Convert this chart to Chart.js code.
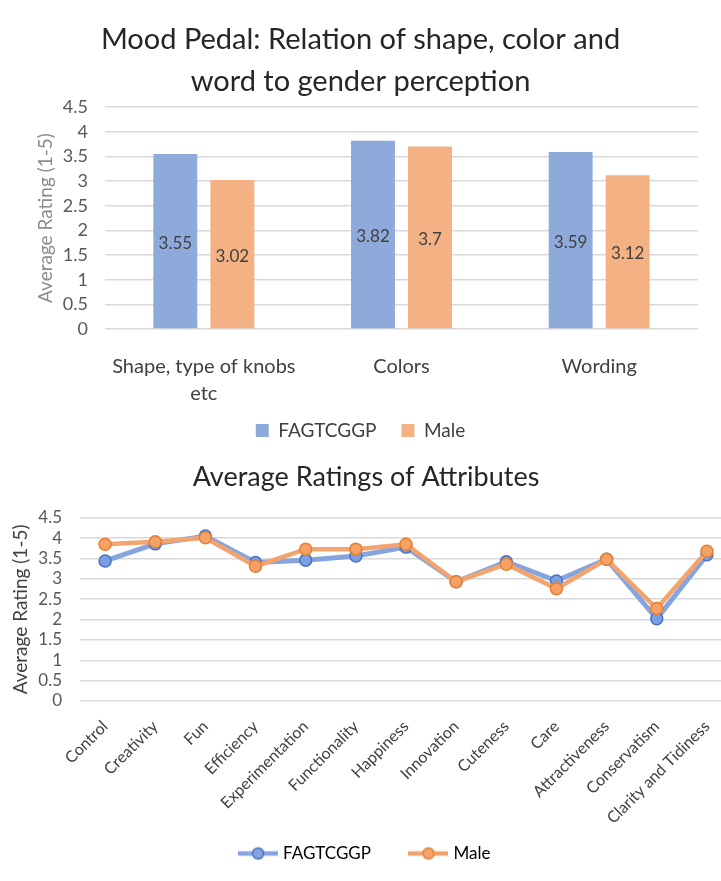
<!DOCTYPE html>
<html>
<head>
<meta charset="utf-8">
<script src="https://cdn.jsdelivr.net/npm/chart.js@4.4.1/dist/chart.umd.min.js"></script>
<style>
  html, body { margin: 0; padding: 0; background: #fff; overflow: hidden; }
  #wrap { position: relative; width: 721px; height: 881px; overflow: hidden; }
  canvas { position: absolute; left: 0; }
  #barChart { top: 0; }
  #lineChart { top: 455px; }
</style>
</head>
<body>
<div id="wrap">
  <canvas id="lineChart" width="745" height="439"></canvas>
  <canvas id="barChart" width="721" height="455"></canvas>
</div>
<script>
// top chart data
const barCategories = [['Shape, type of knobs', 'etc'], 'Colors', 'Wording'];
const barFagtcggp = [3.55, 3.82, 3.59];
const barMale = [3.02, 3.7, 3.12];

// bottom chart data
const attributes = ['Control', 'Creativity', 'Fun', 'Efficiency', 'Experimentation',
  'Functionality', 'Happiness', 'Innovation', 'Cuteness', 'Care', 'Attractiveness',
  'Conservatism', 'Clarity and Tidiness'];
const attrFagtcggp = [3.44, 3.86, 4.05, 3.40, 3.46, 3.56, 3.78, 2.93, 3.42, 2.95, 3.48, 2.02, 3.59];
const attrMale = [3.85, 3.91, 4.01, 3.31, 3.73, 3.73, 3.85, 2.93, 3.36, 2.76, 3.48, 2.27, 3.68];

const seriesNames = ['FAGTCGGP', 'Male'];
const yMax = 4.5;
const yStep = 0.5;

Chart.defaults.font.family = 'Lato, "Open Sans", sans-serif';
Chart.defaults.color = '#595959';

// legend icon for the line chart: a short line with a marker on it
function lineIcon(fill, stroke) {
  const c = document.createElement('canvas');
  c.width = 40; c.height = 16;
  const ctx = c.getContext('2d');
  ctx.strokeStyle = fill;
  ctx.lineWidth = 4.5;
  ctx.beginPath(); ctx.moveTo(0, 8); ctx.lineTo(40, 8); ctx.stroke();
  ctx.beginPath(); ctx.arc(20, 8, 5.5, 0, Math.PI * 2);
  ctx.fillStyle = fill; ctx.fill();
  ctx.lineWidth = 1.5; ctx.strokeStyle = stroke; ctx.stroke();
  return c;
}

// the wide legend padding also pushes it down, so pull it back up a bit
const liftLegend = {
  id: 'liftLegend',
  afterLayout(chart, args, opts) {
    chart.legend.top -= opts.by;
    chart.legend.bottom -= opts.by;
  }
};

const barValueLabels = {
  id: 'barValueLabels',
  afterDatasetsDraw(chart) {
    const ctx = chart.ctx;
    ctx.save();
    ctx.font = '17px Lato, "Open Sans", sans-serif';
    ctx.fillStyle = '#404040';
    ctx.textAlign = 'center';
    ctx.textBaseline = 'middle';
    chart.data.datasets.forEach((ds, i) => {
      chart.getDatasetMeta(i).data.forEach((bar, j) => {
        const p = bar.getProps(['x', 'y', 'base'], true);
        ctx.fillText(String(ds.data[j]), p.x, (p.y + p.base) / 2 + 2);
      });
    });
    ctx.restore();
  }
};

const tickText = (v) => String(v);

const blue = '#8eaadb', orange = '#f4b183';

new Chart(document.getElementById('barChart'), {
  type: 'bar',
  data: {
    labels: barCategories,
    datasets: [
      { label: seriesNames[0], data: barFagtcggp, backgroundColor: blue },
      { label: seriesNames[1], data: barMale, backgroundColor: orange }
    ]
  },
  options: {
    responsive: false,
    animation: false,
    categoryPercentage: 0.577,
    barPercentage: 0.77,
    layout: { padding: 0 },
    plugins: {
      title: {
        display: true,
        text: ['Mood Pedal: Relation of shape, color and', 'word to gender perception'],
        color: '#262626',
        font: { size: 29, weight: 'normal', lineHeight: 1.45 },
        padding: { top: 19, bottom: 4 }
      },
      legend: {
        position: 'bottom',
        labels: {
          boxWidth: 13,
          boxHeight: 13,
          color: '#404040',
          font: { size: 19 },
          padding: 25
        }
      },
      liftLegend: { by: 5 },
      tooltip: { enabled: false }
    },
    scales: {
      x: {
        grid: { display: false },
        border: { display: false },
        ticks: { color: '#404040', font: { size: 20, lineHeight: 1.35 }, padding: 16, maxRotation: 0 },
        afterFit: (s) => { s.height = 72; }
      },
      y: {
        min: 0,
        max: yMax,
        ticks: { stepSize: yStep, color: '#595959', font: { size: 18 }, padding: 17, callback: tickText },
        grid: { color: '#d9d9d9', lineWidth: 1.5, drawTicks: false },
        border: { display: false },
        title: { display: true, text: 'Average Rating (1-5)', color: '#8c8c8c', font: { size: 19 }, padding: { top: 34 } },
        afterFit: (s) => { s.width = 105; }
      },
      // empty strip on the right so the plot stops short of the edge
      side: {
        position: 'right',
        grid: { display: false },
        border: { display: false },
        ticks: { display: false },
        afterFit: (s) => { s.width = 23; }
      }
    }
  },
  plugins: [barValueLabels, liftLegend]
});

const lineBlue = '#86a5df', lineOrange = '#f3a46e';
const markBlue = '#7b9fe3', markOrange = '#f6a266';
const rimBlue = '#4a72c2', rimOrange = '#e4802f';

new Chart(document.getElementById('lineChart'), {
  type: 'line',
  data: {
    labels: attributes,
    datasets: [
      {
        label: seriesNames[0], data: attrFagtcggp, order: 1,
        borderColor: lineBlue, borderWidth: 5,
        pointRadius: 6, pointBackgroundColor: markBlue, pointBorderColor: rimBlue, pointBorderWidth: 1.5,
        legendFill: lineBlue, legendRim: rimBlue
      },
      {
        label: seriesNames[1], data: attrMale, order: 0,
        borderColor: lineOrange, borderWidth: 4.5,
        pointRadius: 6, pointBackgroundColor: markOrange, pointBorderColor: rimOrange, pointBorderWidth: 1.5,
        legendFill: lineOrange, legendRim: rimOrange
      }
    ]
  },
  options: {
    responsive: false,
    animation: false,
    layout: { padding: { left: 0, right: 13, top: 0, bottom: 0 } },
    plugins: {
      title: {
        display: true,
        text: 'Average Ratings of Attributes',
        color: '#262626',
        font: { size: 27, weight: 'normal', lineHeight: 1.4 },
        padding: { top: 3, bottom: 22 }
      },
      legend: {
        position: 'bottom',
        labels: {
          usePointStyle: true,
          pointStyleWidth: 33,
          color: '#404040',
          font: { size: 17 },
          padding: 41,
          generateLabels: (chart) => chart.data.datasets.map((ds, i) => ({
            text: ds.label,
            pointStyle: lineIcon(ds.legendFill, ds.legendRim),
            datasetIndex: i,
            hidden: false,
            lineWidth: 0
          }))
        }
      },
      liftLegend: { by: 22 },
      tooltip: { enabled: false }
    },
    scales: {
      x: {
        offset: true,
        grid: { display: false },
        border: { display: false },
        ticks: { color: '#404040', font: { size: 16 }, padding: 8, minRotation: 45, maxRotation: 45, autoSkip: false },
        afterFit: (s) => { s.height = 125; }
      },
      y: {
        min: 0,
        max: yMax,
        ticks: { stepSize: yStep, color: '#595959', font: { size: 17 }, padding: 18, autoSkip: false, callback: tickText },
        grid: { color: '#d9d9d9', lineWidth: 1.5, drawTicks: false },
        border: { display: false },
        title: { display: true, text: 'Average Rating (1-5)', color: '#404040', font: { size: 19 }, padding: { top: 9 } },
        afterFit: (s) => { s.width = 80; }
      }
    }
  },
  plugins: [liftLegend]
});
</script>
</body>
</html>
